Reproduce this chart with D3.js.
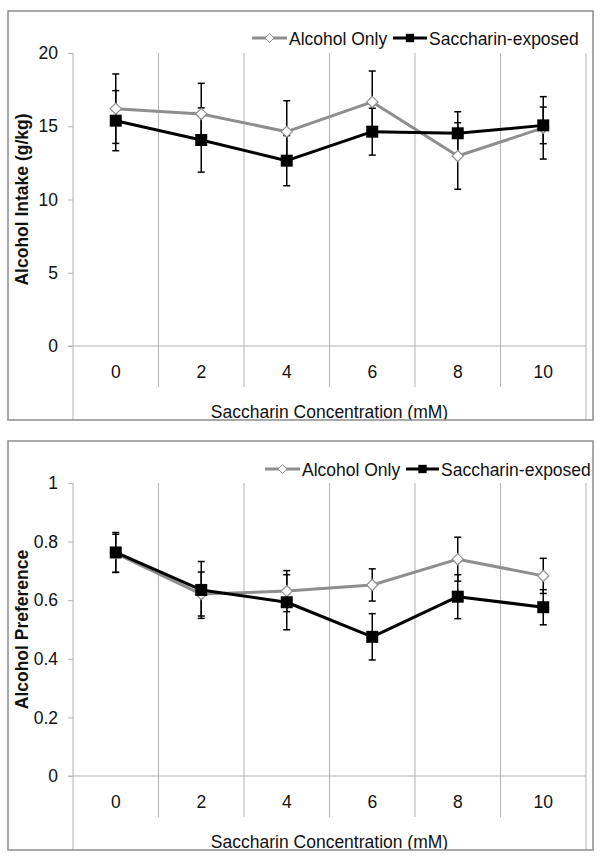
<!DOCTYPE html>
<html>
<head>
<meta charset="utf-8">
<script src="https://cdn.jsdelivr.net/npm/d3@7"></script>
<style>
  html, body { margin: 0; padding: 0; background: #fff; }
  svg { display: block; }
  text { font-family: "Liberation Sans", Arial, sans-serif; fill: #111; }
</style>
</head>
<body>
<svg id="chart" width="604" height="859"></svg>
<script>
// ---------- data ----------
const categories = ["0", "2", "4", "6", "8", "10"];
const seriesNames = ["Alcohol Only", "Saccharin-exposed"];

const intakeAlcoholOnly    = [16.2, 15.84, 14.63, 16.66, 12.97, 14.89];
const intakeAlcoholOnlyErr = [2.37, 2.09, 2.11, 2.11, 2.27, 2.13];
const intakeSaccharin      = [15.38, 14.06, 12.65, 14.63, 14.52, 15.06];
const intakeSaccharinErr   = [2.05, 2.19, 1.71, 1.6, 1.47, 1.25];

const prefAlcoholOnly      = [0.76, 0.621, 0.631, 0.652, 0.74, 0.683];
const prefAlcoholOnlyErr   = [0.065, 0.075, 0.07, 0.055, 0.075, 0.06];
const prefSaccharin        = [0.763, 0.635, 0.593, 0.475, 0.612, 0.576];
const prefSaccharinErr     = [0.068, 0.097, 0.094, 0.079, 0.075, 0.06];

const intakeTicks = [0, 5, 10, 15, 20];
const prefTicks = [0, 0.2, 0.4, 0.6, 0.8, 1];
const xTitle = "Saccharin Concentration (mM)";

// ---------- drawing ----------
const svg = d3.select("#chart");
const GRID = "#b3b3b3";
const GRAY = "#8e8e8e";

function drawPanel(opts) {
  const g = svg.append("g").attr("transform", `translate(0,${opts.offsetY})`);
  const border = { x: 8, y: 11, w: 585, h: 409 };
  const clipId = "clip" + opts.id;
  g.append("clipPath").attr("id", clipId)
    .append("rect").attr("x", border.x).attr("y", border.y)
    .attr("width", border.w).attr("height", border.h);
  const c = g.append("g").attr("clip-path", `url(#${clipId})`);

  const left = 73, right = 586, top = 53, zero = 346;
  const x = d3.scaleBand().domain(categories).range([left, right]).paddingInner(0).paddingOuter(0);
  const cx = d => x(d) + x.bandwidth() / 2;
  const y = d3.scaleLinear().domain(opts.domain).range([zero, top]);

  // vertical gridlines (category boundaries)
  const edges = categories.map(d => x(d)).concat([right]);
  c.selectAll("line.vgrid").data(edges).enter().append("line")
    .attr("x1", d => d).attr("x2", d => d)
    .attr("y1", top)
    .attr("y2", (d, i) => (i === 0 || i === edges.length - 1) ? border.y + border.h : 387)
    .attr("stroke", GRID).attr("stroke-width", 1);

  // zero line (category axis)
  c.append("line").attr("x1", 68).attr("x2", right).attr("y1", y(0)).attr("y2", y(0))
    .attr("stroke", GRID).attr("stroke-width", 1);

  // y axis
  const yAxis = d3.axisLeft(y).tickValues(opts.ticks).tickSize(5).tickPadding(10)
    .tickFormat(d3.format("~g"));
  const ya = c.append("g").attr("transform", `translate(${left},0)`).call(yAxis);
  ya.select(".domain").remove();
  ya.selectAll(".tick line").attr("stroke", GRID);
  ya.selectAll(".tick text").attr("font-size", "17.5px").attr("fill", "#111")
    .attr("font-family", "Liberation Sans, Arial, sans-serif");

  // x tick labels
  c.selectAll("text.xl").data(categories).enter().append("text")
    .attr("x", d => cx(d)).attr("y", 378).attr("text-anchor", "middle")
    .attr("font-size", "17.5px").text(d => d);

  // axis titles
  c.append("text").attr("x", (left + right) / 2).attr("y", 418)
    .attr("text-anchor", "middle").attr("font-size", "17.5px").text(xTitle);
  c.append("text")
    .attr("transform", `translate(28,${(top + zero) / 2}) rotate(-90)`)
    .attr("text-anchor", "middle").attr("font-size", "17.5px").attr("font-weight", "bold")
    .text(opts.yTitle);

  const series = [
    { vals: opts.a, errs: opts.aErr, color: GRAY, marker: "diamond" },
    { vals: opts.b, errs: opts.bErr, color: "#000", marker: "square" }
  ];
  const line = d3.line().x((d, i) => cx(categories[i])).y(d => y(d));

  series.forEach(s => {
    c.append("path").datum(s.vals).attr("d", line)
      .attr("fill", "none").attr("stroke", s.color).attr("stroke-width", 3)
      .attr("stroke-linejoin", "round");
  });

  // error bars
  series.forEach(s => {
    const eb = c.append("g");
    s.vals.forEach((v, i) => {
      const px = cx(categories[i]);
      const y1 = y(v + s.errs[i]), y2 = y(v - s.errs[i]);
      eb.append("line").attr("x1", px).attr("x2", px).attr("y1", y1).attr("y2", y2)
        .attr("stroke", "#000").attr("stroke-width", 1.5);
      [y1, y2].forEach(yy => eb.append("line").attr("x1", px - 3.5).attr("x2", px + 3.5)
        .attr("y1", yy).attr("y2", yy).attr("stroke", "#000").attr("stroke-width", 1.5));
    });
  });

  // markers
  const diamond = d3.symbol().type(d3.symbolDiamond2).size(60);
  series.forEach(s => {
    c.selectAll(null).data(s.vals).enter().append("path")
      .attr("transform", (d, i) => `translate(${cx(categories[i])},${y(d)})`)
      .attr("d", s.marker === "diamond" ? d3.symbol().type(d3.symbolDiamond2).size(80)()
                                        : d3.symbol().type(d3.symbolSquare).size(144)())
      .attr("fill", s.marker === "diamond" ? "#fff" : "#000")
      .attr("stroke", s.marker === "diamond" ? GRAY : "#000")
      .attr("stroke-width", s.marker === "diamond" ? 1.2 : 0);
  });

  // legend
  const lg = c.append("g");
  const items = [
    { name: seriesNames[0], color: GRAY, marker: "diamond", x0: opts.leg[0], x1: opts.leg[1], tx: opts.leg[2] },
    { name: seriesNames[1], color: "#000", marker: "square", x0: opts.leg[3], x1: opts.leg[4], tx: opts.leg[5] }
  ];
  items.forEach(it => {
    lg.append("line").attr("x1", it.x0).attr("x2", it.x1).attr("y1", opts.legY).attr("y2", opts.legY)
      .attr("stroke", it.color).attr("stroke-width", 3);
    lg.append("path").attr("transform", `translate(${(it.x0 + it.x1) / 2},${opts.legY})`)
      .attr("d", it.marker === "diamond" ? d3.symbol().type(d3.symbolDiamond2).size(50)()
                                         : d3.symbol().type(d3.symbolSquare).size(70)())
      .attr("fill", it.marker === "diamond" ? "#fff" : "#000")
      .attr("stroke", it.marker === "diamond" ? GRAY : "none").attr("stroke-width", 1);
    lg.append("text").attr("x", it.tx).attr("y", opts.legY + 6.5)
      .attr("font-size", "17.5px").text(it.name);
  });

  // border
  g.append("rect").attr("x", border.x).attr("y", border.y).attr("width", border.w).attr("height", border.h)
    .attr("fill", "none").attr("stroke", "#8c8c8c").attr("stroke-width", 1.5);
}

drawPanel({
  id: 1, offsetY: 0, domain: [0, 20], ticks: intakeTicks, yTitle: "Alcohol Intake (g/kg)",
  a: intakeAlcoholOnly, aErr: intakeAlcoholOnlyErr, b: intakeSaccharin, bErr: intakeSaccharinErr,
  legY: 38, leg: [252, 287, 289, 393, 427, 429]
});
drawPanel({
  id: 2, offsetY: 430, domain: [0, 1], ticks: prefTicks, yTitle: "Alcohol Preference",
  a: prefAlcoholOnly, aErr: prefAlcoholOnlyErr, b: prefSaccharin, bErr: prefSaccharinErr,
  legY: 39, leg: [265, 300, 302, 406, 439, 441]
});
</script>
</body>
</html>
